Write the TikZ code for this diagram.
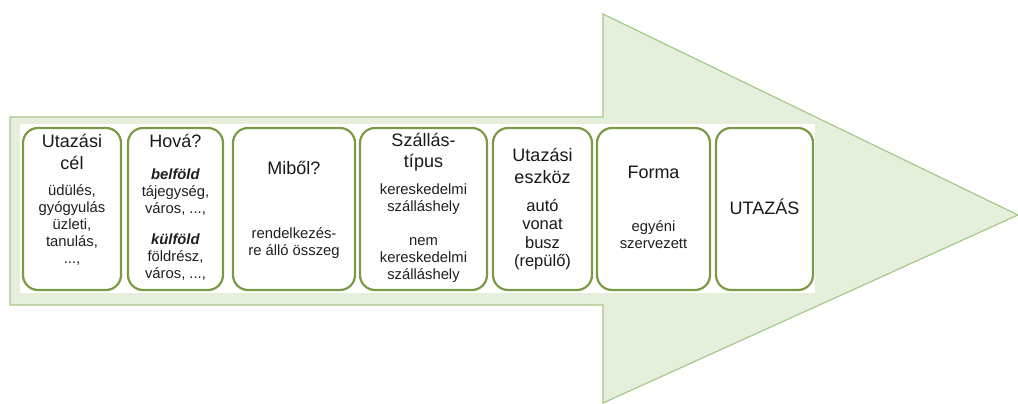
\documentclass[tikz,border=0pt]{standalone}
\usepackage{fontspec}
\setmainfont{Liberation Sans}
\definecolor{arrowfill}{HTML}{E6EFDB}
\definecolor{arrowline}{HTML}{A8C889}
\definecolor{boxline}{HTML}{7A9A45}
\begin{document}
\begin{tikzpicture}[x=1pt,y=-1pt,
  stage/.style={draw=boxline,line width=2.2pt,rounded corners=15pt,fill=white},
  head/.style={font=\fontsize{18}{21.5}\selectfont,align=center,inner sep=0pt,text=black!90},
  body/.style={font=\fontsize{14.8}{16.8}\selectfont,align=center,inner sep=0pt,text=black!88},
  bodyl/.style={font=\fontsize{16.5}{18.5}\selectfont,align=center,inner sep=0pt,text=black!90}]
\useasboundingbox (0,0) rectangle (1018,404);
% big arrow
\draw[fill=arrowfill,draw=arrowline,line width=1.2pt]
  (10,117) -- (603,117) -- (603,14) -- (1018,215) -- (603,403) -- (603,305) -- (10,305) -- cycle;
% white band behind the stages
\fill[white] (20,124) rectangle (815,293);
% stage boxes
\draw[stage] (23,128) rectangle (121,290) node[pos=0.5] (b1) {};
\draw[stage] (128,128) rectangle (223,290) node[pos=0.5] (b2) {};
\draw[stage] (233,128) rectangle (355,290) node[pos=0.5] (b3) {};
\draw[stage] (360,128) rectangle (487,290) node[pos=0.5] (b4) {};
\draw[stage] (493,128) rectangle (592,290) node[pos=0.5] (b5) {};
\draw[stage] (597,128) rectangle (710,290) node[pos=0.5] (b6) {};
\draw[stage] (716,128) rectangle (813,290) node[pos=0.5] (b7) {};
% texts
\node[head] (t1) at (72,152) {Utazási\\cél};
\node[body] (s1) at (72,225) {üdülés,\\gyógyulás\\üzleti,\\tanulás,\\...,};
\node[head] (t2) at (175.5,141) {Hová?};
\node[body] (s2a) at (175.5,192) {\textbf{\textit{belföld}}\\tájegység,\\város, ...,};
\node[body] (s2b) at (175.5,257) {\textbf{\textit{külföld}}\\földrész,\\város, ...,};
\node[head] (t3) at (294,168) {Miből?};
\node[body] (s3) at (294,243) {rendelkezés-\\re álló összeg};
\node[head] (t4) at (423.5,152) {Szállás-\\típus};
\node[body] (s4a) at (423.5,199) {kereskedelmi\\szálláshely};
\node[body] (s4b) at (423.5,260) {nem\\kereskedelmi\\szálláshely};
\node[head] (t5) at (542.5,166) {Utazási\\eszköz};
\node[bodyl] (s5) at (542.5,234.5) {autó\\vonat\\busz\\(repülő)};
\node[head] (t6) at (653.5,172) {Forma};
\node[body] (s6) at (653.5,235) {egyéni\\szervezett};
\node[head] (t7) at (764.5,207) {UTAZÁS};
\end{tikzpicture}
\end{document}
